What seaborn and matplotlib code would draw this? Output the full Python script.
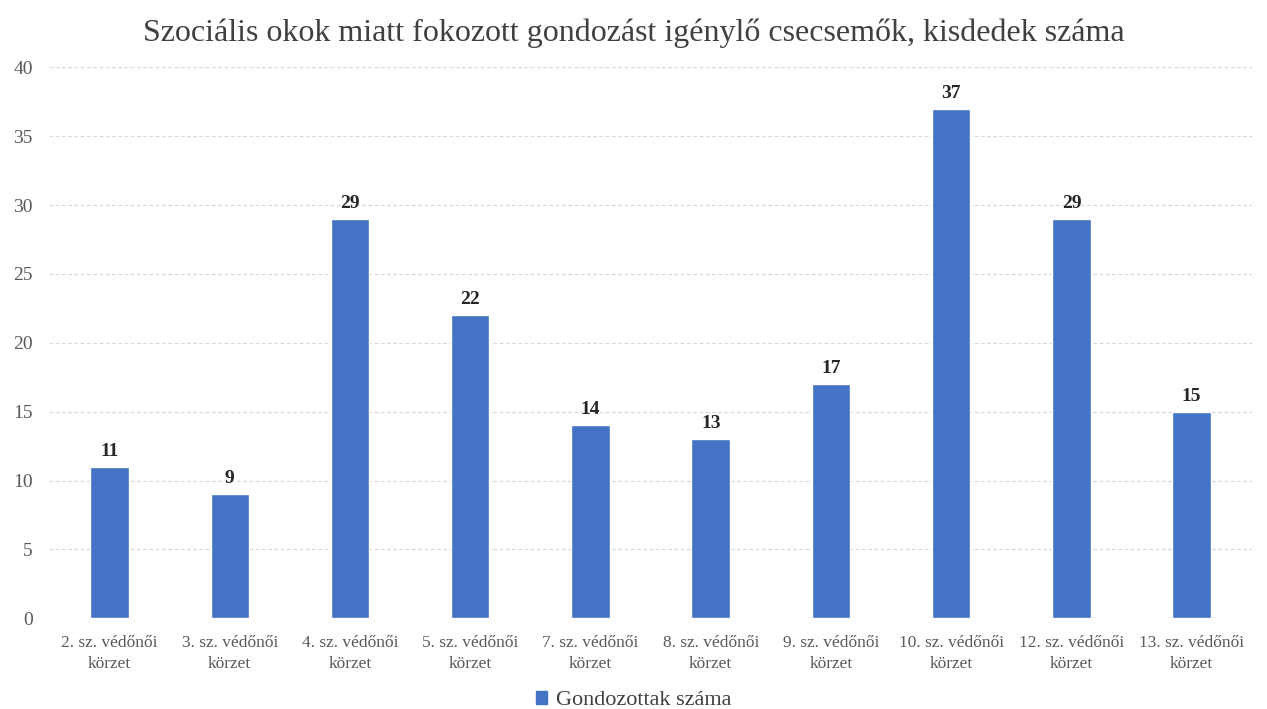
import matplotlib
matplotlib.use("Agg")
import matplotlib.pyplot as plt
import seaborn as sns
import pandas as pd
from matplotlib.patches import Patch

# adatok
korzetek = ["2. sz. védőnői\nkörzet", "3. sz. védőnői\nkörzet", "4. sz. védőnői\nkörzet",
            "5. sz. védőnői\nkörzet", "7. sz. védőnői\nkörzet", "8. sz. védőnői\nkörzet",
            "9. sz. védőnői\nkörzet", "10. sz. védőnői\nkörzet", "12. sz. védőnői\nkörzet",
            "13. sz. védőnői\nkörzet"]
gondozottak = [11, 9, 29, 22, 14, 13, 17, 37, 29, 15]
sorozat = "Gondozottak száma"
cim = "Szociális okok miatt fokozott gondozást igénylő csecsemők, kisdedek száma"

df = pd.DataFrame({"korzet": korzetek, "ertek": gondozottak, "sorozat": sorozat})

sns.set_style("white")
plt.rcParams["font.family"] = ["Liberation Serif", "DejaVu Serif"]

fig = plt.figure(figsize=(12.67, 7.09), dpi=100)
ax = fig.add_axes([0.039, 0.128, 0.949, 0.777])

sns.barplot(data=df, x="korzet", y="ertek", hue="sorozat", palette=["#4472C4"],
            saturation=1, width=0.32, ax=ax, legend=False)

# értékcímkék a oszlopok fölé
for p, v in zip(ax.patches, gondozottak):
    ax.annotate(str(v), (p.get_x() + p.get_width() / 2, p.get_height()),
                ha="center", va="bottom", xytext=(0, 5), textcoords="offset points",
                fontsize=14, fontweight="bold", color="#262626")

ax.set_ylim(0, 40)
ax.set_yticks(range(0, 41, 5))
ax.set_xlim(-0.5, len(korzetek) - 0.5)
ax.yaxis.grid(True, color="#d9d9d9", linestyle=(0, (3, 2)), linewidth=0.9)
ax.set_axisbelow(True)
for s in ax.spines.values():
    s.set_visible(False)
ax.tick_params(axis="y", labelsize=14, labelcolor="#595959", length=0, pad=12)
ax.tick_params(axis="x", labelsize=12.5, labelcolor="#595959", length=0, pad=12)
for t in ax.get_xticklabels():
    t.set_linespacing(1.4)
ax.set_xlabel("")
ax.set_ylabel("")

fig.suptitle(cim, fontsize=23, color="#404040", y=0.974)

fig.legend(handles=[Patch(color="#4472C4", label=sorozat)], loc="lower center",
           bbox_to_anchor=(0.5, -0.03), frameon=False, fontsize=16,
           handlelength=0.5, handleheight=0.5, handletextpad=0.4,
           labelcolor="#404040")

fig.savefig("out.png", dpi=100)
